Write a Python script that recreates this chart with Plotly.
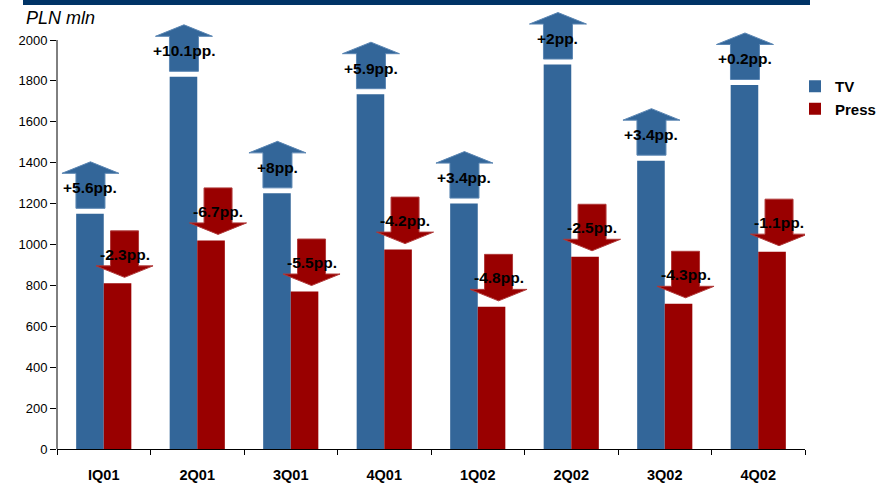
import plotly.graph_objects as go

# Quarterly ad spend (PLN mln) and market share change
categories = ["IQ01", "2Q01", "3Q01", "4Q01", "1Q02", "2Q02", "3Q02", "4Q02"]
tv = [1150, 1820, 1250, 1735, 1200, 1880, 1410, 1780]
press = [810, 1020, 770, 975, 695, 940, 710, 965]
tv_change = ["+5.6pp.", "+10.1pp.", "+8pp.", "+5.9pp.", "+3.4pp.", "+2pp.", "+3.4pp.", "+0.2pp."]
press_change = ["-2.3pp.", "-6.7pp.", "-5.5pp.", "-4.2pp.", "-4.8pp.", "-2.5pp.", "-4.3pp.", "-1.1pp."]
y_ticks = list(range(0, 2001, 200))

TV_COLOR = "#336699"
TV_EDGE = "#5b86b3"
PRESS_COLOR = "#990000"
PRESS_EDGE = "#b03a3a"
HEADER_COLOR = "#003366"
FONT = "Arial, Liberation Sans, sans-serif"

W, H = 885, 483
M_L, M_R, M_T, M_B = 57, 80, 8, 34
plot_w = W - M_L - M_R
plot_h = H - M_T - M_B
Y_MAX = 2000 * plot_h / 409          # headroom above 2000 for the arrows
BARGAP = 0.41

n = len(categories)
px_per_cat = plot_w / n
px_per_unit = plot_h / Y_MAX


def dx(p):
    return p / px_per_cat


def dy(p):
    return p / px_per_unit


bar_off = (1 - BARGAP) / 4           # centre offset of each bar inside its group

fig = go.Figure()
fig.add_trace(go.Bar(x=categories, y=tv, name="TV", marker=dict(color=TV_COLOR, line=dict(width=0))))
fig.add_trace(go.Bar(x=categories, y=press, name="Press", marker=dict(color=PRESS_COLOR, line=dict(width=0))))


def up_arrow(xc, v):
    sw, hw = dx(14.5), dx(28.5)
    b = v + dy(5.5)
    hb = b + dy(35)
    tip = b + dy(46.5)
    return (f"M {xc - sw},{b} L {xc + sw},{b} L {xc + sw},{hb} L {xc + hw},{hb} "
            f"L {xc},{tip} L {xc - hw},{hb} L {xc - sw},{hb} Z")


def down_arrow(xc, v):
    sw, hw = dx(14), dx(28.5)
    tip = v + dy(6)
    hb = tip + dy(11.5)
    top = tip + dy(46.5)
    return (f"M {xc - sw},{top} L {xc + sw},{top} L {xc + sw},{hb} L {xc + hw},{hb} "
            f"L {xc},{tip} L {xc - hw},{hb} L {xc - sw},{hb} Z")


shapes = []
annotations = []
label_font = dict(family=FONT, size=15.5, color="black", weight="bold")

for i in range(n):
    xu = i - bar_off + dx(0.5)
    xd = i + bar_off + dx(7)
    shapes.append(dict(type="path", xref="x", yref="y", path=up_arrow(xu, tv[i]),
                       fillcolor=TV_COLOR, line=dict(color=TV_EDGE, width=1), layer="above"))
    shapes.append(dict(type="path", xref="x", yref="y", path=down_arrow(xd, press[i]),
                       fillcolor=PRESS_COLOR, line=dict(color=PRESS_EDGE, width=1), layer="above"))
    annotations.append(dict(x=xu, y=tv[i] + dy(26), xref="x", yref="y", text=tv_change[i],
                            showarrow=False, font=label_font, xanchor="center", yanchor="middle"))
    annotations.append(dict(x=xd, y=press[i] + dy(29), xref="x", yref="y", text=press_change[i],
                            showarrow=False, font=label_font, xanchor="center", yanchor="middle"))

# y axis line only up to the top tick
shapes.append(dict(type="line", xref="paper", yref="y", x0=0, x1=0, y0=0, y1=2000,
                   line=dict(color="black", width=1), layer="above"))
# header band
shapes.append(dict(type="rect", xref="paper", yref="paper",
                   x0=(23 - M_L) / plot_w, x1=(810 - M_L) / plot_w,
                   y0=(plot_h + M_T - 5) / plot_h, y1=(plot_h + M_T) / plot_h,
                   fillcolor=HEADER_COLOR, line=dict(width=0), layer="above"))

annotations.append(dict(x=(24 - M_L) / plot_w, y=(plot_h + M_T - 18) / plot_h,
                        xref="paper", yref="paper", text="PLN mln", showarrow=False,
                        xanchor="left", yanchor="middle",
                        font=dict(family=FONT, size=18, style="italic", color="black")))

fig.update_layout(
    width=W, height=H,
    margin=dict(l=M_L, r=M_R, t=M_T, b=M_B, autoexpand=False),
    paper_bgcolor="white", plot_bgcolor="white",
    barmode="group", bargap=BARGAP, bargroupgap=0,
    font=dict(family=FONT, color="black"),
    shapes=shapes, annotations=annotations,
    legend=dict(x=(795 - M_L) / plot_w, xanchor="left",
                y=(plot_h + M_T - 70) / plot_h, yanchor="top",
                font=dict(family=FONT, size=15, weight="bold"),
                bgcolor="rgba(0,0,0,0)", borderwidth=0),
    xaxis=dict(type="category", range=[-0.5, n - 0.5], tickson="boundaries",
               ticks="outside", ticklen=5, tickcolor="black",
               showline=True, linecolor="black", linewidth=1,
               showgrid=False, zeroline=False, ticklabelstandoff=13, automargin=False,
               tickfont=dict(family=FONT, size=14.5, weight="bold")),
    yaxis=dict(range=[0, Y_MAX], tickvals=y_ticks, ticks="outside", ticklen=6,
               tickcolor="black", showline=False, showgrid=False, zeroline=False,
               automargin=False, tickfont=dict(family=FONT, size=13)),
)

fig.write_html("out.html")
